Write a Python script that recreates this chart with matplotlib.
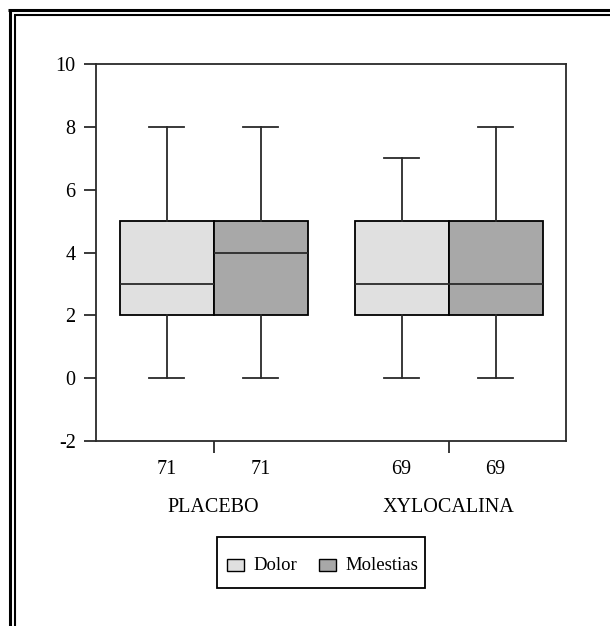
import matplotlib
matplotlib.use("Agg")
import matplotlib.pyplot as plt
from matplotlib.lines import Line2D
from matplotlib.patches import Rectangle
from matplotlib.transforms import blended_transform_factory

plt.rcParams['font.family'] = ['Liberation Serif', 'DejaVu Serif']
plt.rcParams['axes.unicode_minus'] = False

# datos
grupos = ['PLACEBO', 'XYLOCALINA']
series = ['Dolor', 'Molestias']
n_casos = [71, 71, 69, 69]
minimo = [0, 0, 0, 0]
q1 = [2, 2, 2, 2]
mediana = [3, 4, 3, 3]
q3 = [5, 5, 5, 5]
maximo = [8, 8, 7, 8]
colores = ['#e0e0e0', '#a8a8a8']

W, H = 610, 626
fig = plt.figure(figsize=(W / 100, H / 100), dpi=100)
ax = fig.add_axes([96 / W, 1 - 441 / H, 470 / W, 377 / H])

pos = [0.75, 1.75, 3.25, 4.25]
centros = [1.25, 3.75]
stats = []
for i in range(4):
    stats.append(dict(med=mediana[i], q1=q1[i], q3=q3[i],
                      whislo=minimo[i], whishi=maximo[i], fliers=[]))

lw = 1.3
ec = '#2a2a2a'
bp = ax.bxp(stats, positions=pos, widths=1.0, capwidths=0.37,
            patch_artist=True, showfliers=False,
            boxprops=dict(edgecolor='black', linewidth=lw),
            medianprops=dict(color=ec, linewidth=lw),
            whiskerprops=dict(color=ec, linewidth=lw),
            capprops=dict(color=ec, linewidth=lw))
for i, caja in enumerate(bp['boxes']):
    caja.set_facecolor(colores[i % 2])

ax.set_xlim(0, 5)
ax.set_ylim(-2, 10)
ax.set_yticks(range(-2, 11, 2))
ax.set_xticks(centros)
ax.set_xticklabels(['', ''])
ax.tick_params(axis='both', direction='out', length=8.6, width=lw,
               color=ec, labelsize=14.5, pad=6)
for s in ax.spines.values():
    s.set_linewidth(lw)
    s.set_color(ec)

tr = blended_transform_factory(ax.transData, fig.transFigure)
for p, n in zip(pos, n_casos):
    ax.text(p, 1 - 470 / H, str(n), transform=tr, ha='center', va='center',
            fontsize=14.5)
for c, g in zip(centros, grupos):
    ax.text(c, 1 - 507 / H, g, transform=tr, ha='center', va='center',
            fontsize=14.5)

# leyenda dibujada a mano (en pixeles de la figura)
def px(x, y):
    return x / W, 1 - y / H

fig.add_artist(Rectangle(px(217, 588), 208 / W, 51 / H, transform=fig.transFigure,
                         facecolor='white', edgecolor='black', linewidth=lw))
for x0, color, nombre in [(227, colores[0], series[0]), (319, colores[1], series[1])]:
    fig.add_artist(Rectangle(px(x0, 571), 17 / W, 12 / H, transform=fig.transFigure,
                             facecolor=color, edgecolor='black', linewidth=1.0))
    fig.text(*px(x0 + 26, 565), nombre, ha='left', va='center', fontsize=13.5)

# marco doble alrededor de la figura (cortado a la derecha y abajo)
for off, ancho in [(9.5, 2.2), (15, 1.5)]:
    fig.add_artist(Line2D([off / W, off / W], [1 - off / H, -0.1],
                          transform=fig.transFigure, color='black',
                          linewidth=ancho, solid_capstyle='butt'))
    fig.add_artist(Line2D([off / W - 0.002, 1.1], [1 - off / H, 1 - off / H],
                          transform=fig.transFigure, color='black',
                          linewidth=ancho, solid_capstyle='butt'))

fig.savefig('out.png', dpi=100)
